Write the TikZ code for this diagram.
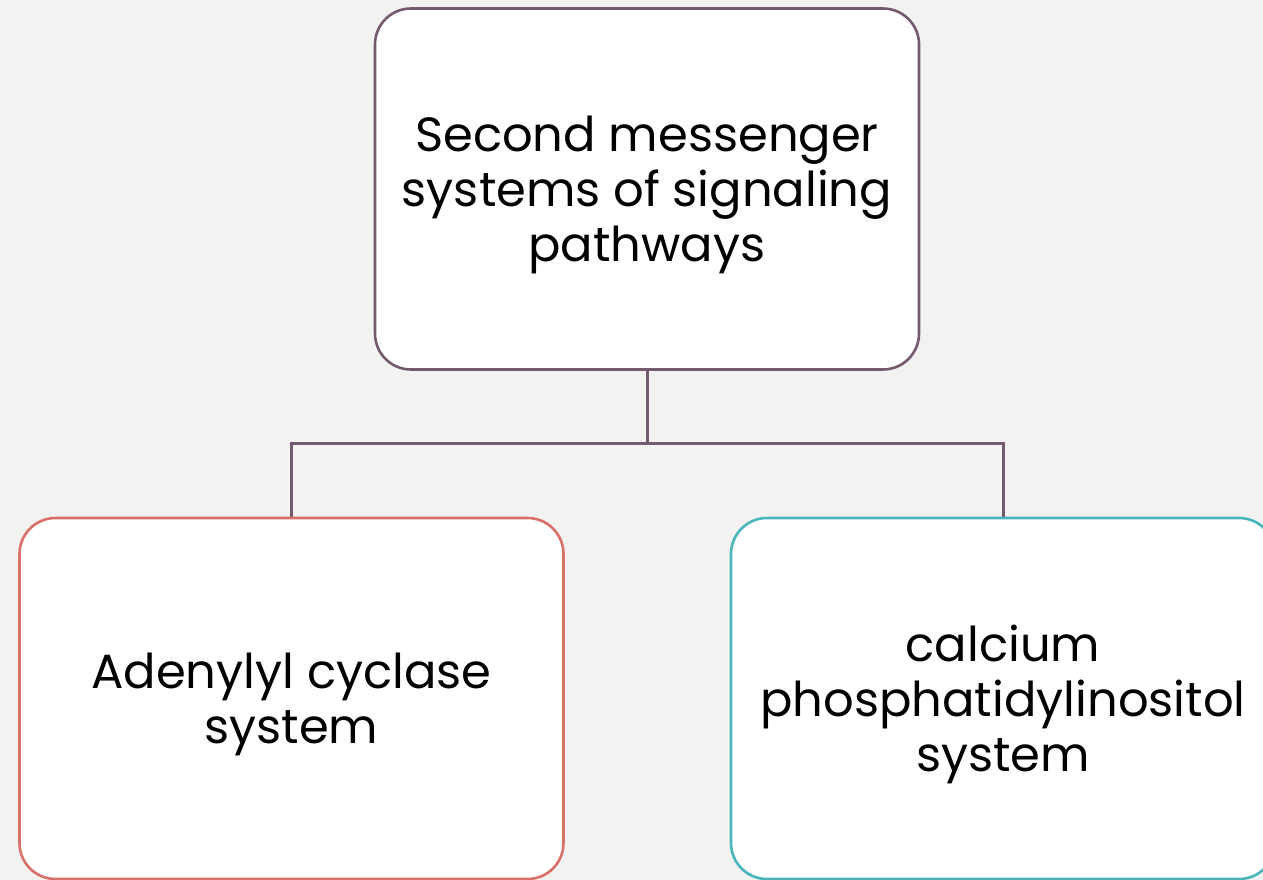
\documentclass[tikz,border=0pt]{standalone}
\usepackage{fontspec}
\setmainfont{Poppins}
\begin{document}
\begin{tikzpicture}[x=1pt,y=-1pt,
  boxtext/.style={font=\fontsize{48}{55}\selectfont, align=center, yshift=-6pt, inner sep=0pt},
  box/.style={draw, line width=2.6pt, fill=white, rounded corners=36pt, minimum width=544pt, minimum height=361pt, inner sep=0pt},
  link/.style={draw=topc, line width=3pt}]
\definecolor{bg}{HTML}{F2F2F0}
\definecolor{topc}{HTML}{735A6E}
\definecolor{leftc}{HTML}{D9706A}
\definecolor{rightc}{HTML}{4BB5BD}
\useasboundingbox (0,0) rectangle (1263,880);
\fill[bg] (0,0) rectangle (1263,880);
\clip (0,0) rectangle (1263,880);
\node[box, draw=topc, label={[boxtext]center:Second messenger\\systems of signaling\\pathways}] (top) at (647,189) {};
\node[box, draw=leftc, label={[boxtext]center:Adenylyl cyclase\\system}] (left) at (291.5,698.5) {};
\node[box, draw=rightc, label={[boxtext]center:calcium\\phosphatidylinositol\\system}] (right) at (1003,698.5) {};
\coordinate (mid) at (647,443);
\draw[link] (top.south) -- (mid);
\draw[link] (left.north) |- (mid) -| (right.north);
\end{tikzpicture}
\end{document}
